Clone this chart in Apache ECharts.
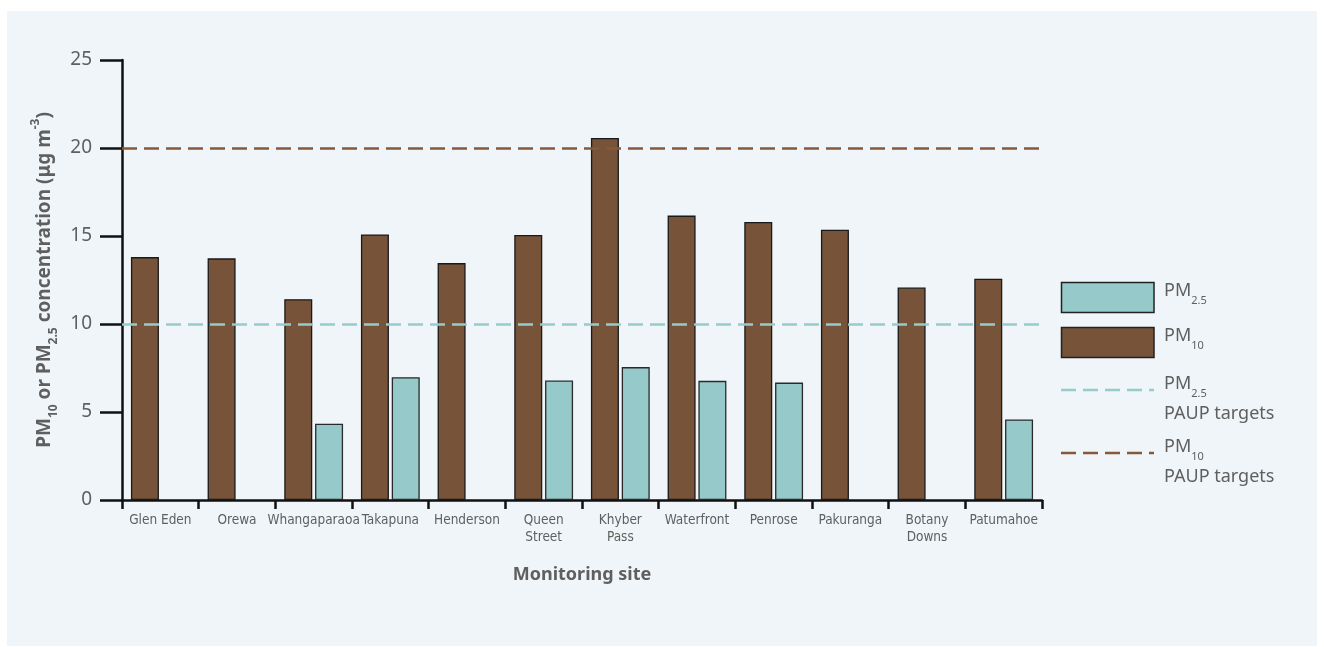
<!DOCTYPE html>
<html>
<head>
<meta charset="utf-8">
<script src="https://cdn.jsdelivr.net/npm/echarts@6/dist/echarts.min.js"></script>
<style>
html,body{margin:0;padding:0;background:#ffffff;width:1324px;height:647px;overflow:hidden;}
#panel{position:absolute;left:7px;top:11px;width:1310px;height:635px;background:#eff5f8;}
#chart{position:absolute;left:0;top:0;width:1324px;height:647px;}
</style>
</head>
<body>
<div id="panel"></div>
<div id="chart"></div>
<script>
var categories = ['Glen Eden','Orewa','Whangaparaoa','Takapuna','Henderson','Queen\nStreet','Khyber\nPass','Waterfront','Penrose','Pakuranga','Botany\nDowns','Patumahoe'];
var pm10 = [13.80,13.73,11.41,15.09,13.46,15.06,20.57,16.16,15.80,15.36,12.07,12.57];
var pm25 = [null,null,4.33,6.98,null,6.79,7.55,6.77,6.67,null,null,4.58];
var pm10Target = 20;
var pm25Target = 10;
var yMin = 0, yMax = 25, yStep = 5;

var brown = '#765339', teal = '#95c9ca';
var brownLine = '#86593a', tealLine = '#98cccc';
var txt = '#5f5f5f';
var baseFont = '"Noto Sans", "Open Sans", sans-serif';
var narrowFont = '"Liberation Sans Narrow", "DejaVu Sans Condensed", "Noto Sans", sans-serif';

var chart = echarts.init(document.getElementById('chart'), null, {renderer:'canvas'});

var subStyle = {fontSize: 12, fontWeight: 'bold', color: txt, fontFamily: baseFont, verticalAlign: 'bottom', lineHeight: 12};
var supStyle = {fontSize: 12, fontWeight: 'bold', color: txt, fontFamily: baseFont, verticalAlign: 'top', lineHeight: 12};

function legText(x, y, rich, text) {
  return {type:'text', left: x, top: y, style: {text: text, rich: rich, fill: txt}};
}
var legRich = {
  m: {fontSize: 18, color: txt, fontFamily: baseFont, lineHeight: 30, verticalAlign: 'middle'},
  s: {fontSize: 11, color: txt, fontFamily: baseFont, lineHeight: 12, verticalAlign: 'bottom'}
};

var option = {
  backgroundColor: 'transparent',
  animation: false,
  grid: {left: 122, right: 282, top: 60, bottom: 147, containLabel: false},
  xAxis: {
    type: 'category',
    data: categories,
    boundaryGap: true,
    axisLine: {lineStyle: {color: '#111', width: 2.5}},
    axisTick: {show: true, length: 9, lineStyle: {color: '#111', width: 2.5}},
    axisLabel: {color: txt, fontSize: 13.5, fontFamily: narrowFont, margin: 12, lineHeight: 17, interval: 0},
    name: 'Monitoring site',
    nameLocation: 'middle',
    nameGap: 66,
    nameTextStyle: {color: txt, fontSize: 18, fontWeight: 'bold', fontFamily: baseFont}
  },
  yAxis: {
    type: 'value',
    min: yMin, max: yMax, interval: yStep,
    splitLine: {show: false},
    axisLine: {show: true, lineStyle: {color: '#111', width: 2.5}},
    axisTick: {show: true, length: 22, lineStyle: {color: '#111', width: 2.5}},
    axisLabel: {color: txt, fontSize: 19, fontFamily: baseFont, margin: 30},
    name: 'PM{s|10} or PM{s|2.5} concentration (μg m{p|-3})',
    nameLocation: 'middle',
    nameRotate: 90,
    nameGap: 62,
    nameTextStyle: {
      color: txt, fontSize: 19, fontWeight: 'bold', fontFamily: baseFont, lineHeight: 30,
      rich: {s: subStyle, p: supStyle}
    }
  },
  series: [
    {
      name: 'PM10', type: 'bar', data: pm10, barWidth: 28, barGap: '10%', z: 3,
      itemStyle: {color: brown, borderColor: '#1a1a1a', borderWidth: 1.3}
    },
    {
      name: 'PM2.5', type: 'bar', data: pm25, barWidth: 28, z: 3,
      itemStyle: {color: teal, borderColor: '#2a2a2a', borderWidth: 1.3}
    },
    {
      name: 'targets', type: 'line', data: [], z: 1, silent: true,
      markLine: {
        silent: true, symbol: 'none', label: {show: false},
        data: [
          {yAxis: pm10Target, lineStyle: {color: brownLine, width: 2.7, type: [15, 7]}},
          {yAxis: pm25Target, lineStyle: {color: tealLine, width: 2.7, type: [15, 7]}}
        ]
      }
    }
  ],
  graphic: [
    {type:'rect', shape:{x:1061.5, y:282.5, width:92.5, height:30}, style:{fill: teal, stroke:'#222', lineWidth:1.5}},
    {type:'rect', shape:{x:1061.5, y:327.5, width:92.5, height:30}, style:{fill: brown, stroke:'#222', lineWidth:1.5}},
    {type:'line', shape:{x1:1061, y1:390, x2:1154, y2:390}, style:{stroke: tealLine, lineWidth:2.7, lineDash:[15,7]}},
    {type:'line', shape:{x1:1061, y1:453, x2:1154, y2:453}, style:{stroke: brownLine, lineWidth:2.7, lineDash:[15,7]}},
    legText(1164, 282, legRich, '{m|PM}{s|2.5}'),
    legText(1164, 327, legRich, '{m|PM}{s|10}'),
    legText(1164, 375, legRich, '{m|PM}{s|2.5}'),
    {type:'text', left:1164, top:405, style:{text:'PAUP targets', fill: txt, fontSize:18, fontFamily: baseFont}},
    legText(1164, 438, legRich, '{m|PM}{s|10}'),
    {type:'text', left:1164, top:468, style:{text:'PAUP targets', fill: txt, fontSize:18, fontFamily: baseFont}}
  ]
};
chart.setOption(option);
</script>
</body>
</html>
